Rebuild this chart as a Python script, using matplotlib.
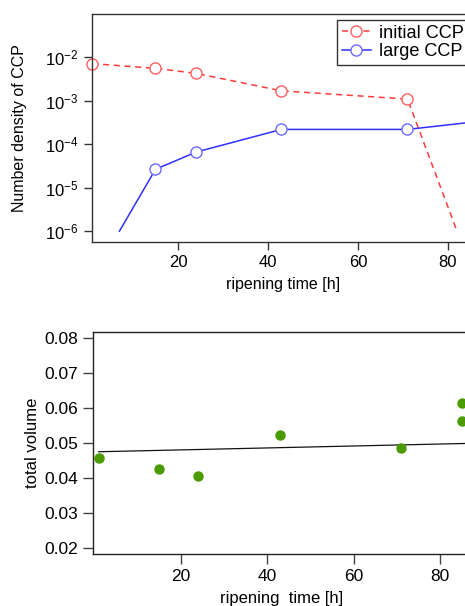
import math
import matplotlib
matplotlib.use("Agg")
import matplotlib.pyplot as plt
from matplotlib.ticker import FixedLocator, FuncFormatter, NullLocator

plt.rcParams['font.family'] = ['Liberation Sans', 'DejaVu Sans']
plt.rcParams['mathtext.fontset'] = 'custom'
plt.rcParams['mathtext.rm'] = 'Liberation Sans'
plt.rcParams['mathtext.it'] = 'Liberation Sans'

# --- data: top panel ---
time_initial = [1, 15, 24, 43, 71, 82]
dens_initial = [7.2e-3, 5.6e-3, 4.3e-3, 1.7e-3, 1.1e-3, 1.0e-6]
time_large = [7, 15, 24, 43, 71, 85]
dens_large = [1.0e-6, 2.65e-5, 6.6e-5, 2.2e-4, 2.2e-4, 3.2e-4]
top_xticks = [20, 40, 60, 80]
top_yticks = [1e-6, 1e-5, 1e-4, 1e-3, 1e-2]

# --- data: bottom panel ---
time_vol = [1, 15, 24, 43, 71, 85, 85]
total_vol = [0.0457, 0.0424, 0.0406, 0.0523, 0.0484, 0.0614, 0.0563]
fit_x = [1, 87]
fit_y = [0.0474, 0.0498]
bot_xticks = [20, 40, 60, 80]
bot_yticks = [0.02, 0.03, 0.04, 0.05, 0.06, 0.07, 0.08]

W, H = 465, 606
fig = plt.figure(figsize=(W / 100, H / 100), dpi=100)

# ---------- top axes ----------
ax1 = fig.add_axes([92 / W, (H - 242) / H, 383 / W, 228 / H])
ax1.set_yscale('log')
ax1.plot(time_initial, dens_initial, color='#ff3b3b', ls=(0, (4, 3)), lw=1.1,
         marker='o', ms=8, mfc='white', mec='#ff6060', mew=1.0,
         markevery=[0, 1, 2, 3, 4], label='initial CCP', clip_on=False)
ax1.plot(time_large, dens_large, color='#3030ff', ls='-', lw=1.1,
         marker='o', ms=8, mfc='white', mec='#6a6aff', mew=1.0,
         markevery=[1, 2, 3, 4], label='large CCP', clip_on=False)
ax1.set_xlim(0.9, 86)
ax1.set_ylim(10 ** -6.25, 10 ** -1.0)
ax1.xaxis.set_major_locator(FixedLocator(top_xticks))
ax1.yaxis.set_major_locator(FixedLocator(top_yticks))
ax1.yaxis.set_minor_locator(NullLocator())
ax1.yaxis.set_major_formatter(FuncFormatter(
    lambda v, p: r'10$^{\mathregular{%d}}$' % round(math.log10(v))))
ax1.tick_params(axis='both', direction='out', length=6, width=1, labelsize=12,
                color='#333333')
for s in ['left', 'bottom', 'top']:
    ax1.spines[s].set_color('#333333')
    ax1.spines[s].set_linewidth(1.0)
ax1.spines['right'].set_visible(False)
ax1.set_xlabel('ripening time [h]', fontsize=11.5, labelpad=5)
ax1.set_ylabel('Number density of CCP', fontsize=11.5, labelpad=13)
leg = ax1.legend(loc='upper left', bbox_to_anchor=(337 / W, 1 - 20 / H),
                 bbox_transform=fig.transFigure, borderaxespad=0,
                 frameon=True, fancybox=False, fontsize=13.1, handlelength=1.6,
                 handletextpad=0.45, borderpad=0.25, labelspacing=0.08)
leg.get_frame().set_edgecolor('black')
leg.get_frame().set_linewidth(1.0)

# ---------- bottom axes ----------
ax2 = fig.add_axes([92.7 / W, (H - 554.3) / H, 377.6 / W, 222.6 / H])
ax2.plot(fit_x, fit_y, color='#111111', lw=0.9)
ax2.plot(time_vol, total_vol, ls='none', marker='o', ms=6.5, color='#4a9a00',
         mec='#4a9a00', clip_on=False)
ax2.set_xlim(-0.4, 87)
ax2.set_ylim(0.0181, 0.0817)
ax2.xaxis.set_major_locator(FixedLocator(bot_xticks))
ax2.yaxis.set_major_locator(FixedLocator(bot_yticks))
ax2.yaxis.set_major_formatter(FuncFormatter(lambda v, p: '%.2f' % v))
ax2.tick_params(axis='both', direction='out', length=7, width=1, labelsize=12.5,
                color='#444444')
for s in ['left', 'bottom', 'top']:
    ax2.spines[s].set_color('#222222')
    ax2.spines[s].set_linewidth(1.0)
ax2.spines['right'].set_visible(False)
ax2.set_xlabel('ripening  time [h]', fontsize=12, labelpad=5)
ax2.set_ylabel('total volume', fontsize=12, labelpad=3)

fig.savefig('out.png', dpi=100)
